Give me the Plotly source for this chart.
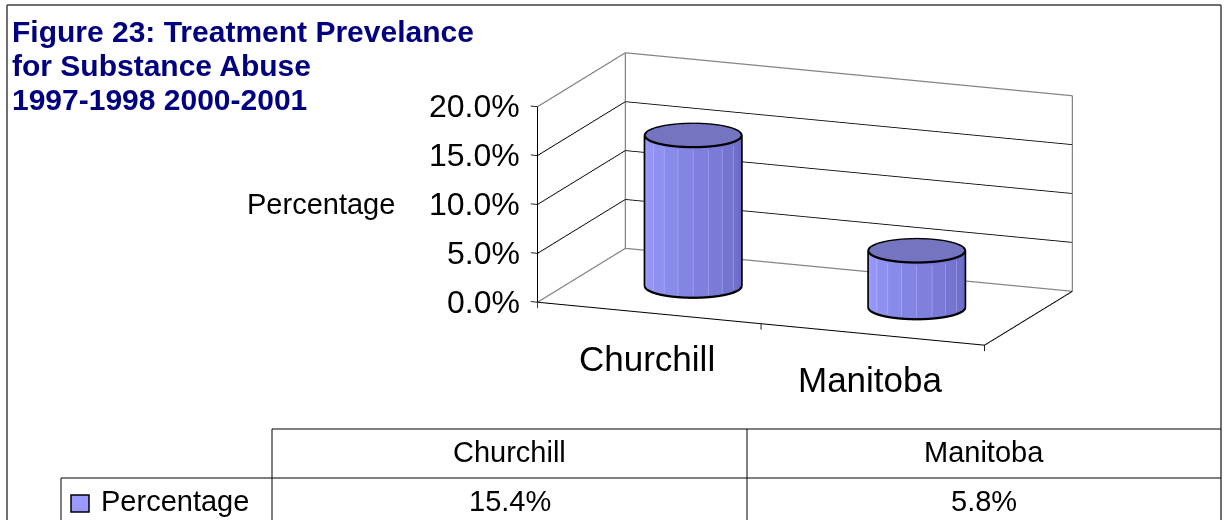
import numpy as np
import plotly.graph_objects as go

# ---------------- data ----------------
categories = ["Churchill", "Manitoba"]
series_name = "Percentage"
axis_title = "Percentage"
values = [0.154, 0.058]
value_labels = ["15.4%", "5.8%"]
z_tick_values = [0.0, 0.05, 0.10, 0.15, 0.20]
z_tick_labels = ["0.0%", "5.0%", "10.0%", "15.0%", "20.0%"]
title_lines = ["Figure 23: Treatment Prevelance", "for Substance Abuse", "1997-1998 2000-2001"]

# ---------------- style ----------------
W, H = 1225, 520
FONT = "Liberation Sans, Arial, sans-serif"
NAVY = "#000080"
BAR_LIGHT = np.array([156, 158, 255])
BAR_DARK = np.array([104, 104, 194])
STRIPE = "#b6b8ff"
TOP_COLOR = "#7474c0"
LEGEND_COLOR = "#9999ff"
GRAY = "#858585"

n = len(categories)
XMAX = float(n)
ZMAX = z_tick_values[-1]
xr = [-0.05, XMAX + 0.01]
yr = [-0.01, 1.01]
zr = [-0.008, ZMAX + 0.003]

# view geometry (pixel-world lengths per data unit)
PX, PY, PZ = 240.9, 239.2, 1010.0
PIX_PER_ASPECT = 195.4
lx = (xr[1] - xr[0]) * PX
ly = (yr[1] - yr[0]) * PY
lz = (zr[1] - zr[0]) * PZ
aspect = dict(x=lx / PIX_PER_ASPECT, y=ly / PIX_PER_ASPECT, z=lz / PIX_PER_ASPECT)

elev = np.radians(14.05)
azim = np.radians(21.59)
view = np.array([np.cos(elev) * np.sin(azim), -np.cos(elev) * np.cos(azim), np.sin(elev)])
eye = 2.0 * view

R_PX = 48.0
rx, ry = R_PX / PX, R_PX / PY
YC = 0.5
NF = 20

fig = go.Figure()


def line3d(pts, color, width):
    pts = np.array(pts, dtype=float)
    fig.add_trace(go.Scatter3d(x=pts[:, 0], y=pts[:, 1], z=pts[:, 2], mode="lines",
                               line=dict(color=color, width=width), hoverinfo="skip",
                               showlegend=False))


# box edges (gray)
for seg in [[(0, 0, ZMAX), (0, 1, ZMAX)], [(0, 1, 0), (0, 1, ZMAX)],
            [(0, 1, ZMAX), (XMAX, 1, ZMAX)], [(XMAX, 1, 0), (XMAX, 1, ZMAX)],
            [(0, 0, 0), (0, 1, 0)], [(0, 1, 0), (XMAX, 1, 0)]]:
    line3d(seg, GRAY, 2.5)
# gridlines
for zv in z_tick_values[1:-1]:
    line3d([(0, 0, zv), (0, 1, zv), (XMAX, 1, zv)], "#000000", 1.7)
# front axis lines (black)
for seg in [[(0, 0, 0), (0, 0, ZMAX)], [(0, 0, 0), (XMAX, 0, 0)], [(XMAX, 0, 0), (XMAX, 1, 0)]]:
    line3d(seg, "#000000", 2)
# tick marks
for zv in z_tick_values:
    line3d([(0, 0, zv), (-0.03, 0, zv)], "#000000", 1.7)
for k in range(n + 1):
    line3d([(k, 0, 0), (k, 0, -0.006)], "#000000", 1.7)

# cylinders
t0 = azim + np.pi
for i, v in enumerate(values):
    cx = i + 0.5
    ts = t0 + 2 * np.pi * np.arange(NF) / NF
    bx = cx + rx * np.cos(ts)
    by = YC + ry * np.sin(ts)
    xs = np.concatenate([bx, bx])
    ys = np.concatenate([by, by])
    zs = np.concatenate([np.zeros(NF), np.full(NF, v)])
    I, J, K, FC = [], [], [], []
    for k in range(NF):
        k2 = (k + 1) % NF
        tc = t0 + 2 * np.pi * (k + 0.5) / NF
        f = ((tc - t0) % (2 * np.pi)) / np.pi
        f = min(max(f, 0.0), 1.0)
        c = (BAR_LIGHT * (1 - f) + BAR_DARK * f).astype(int)
        col = "rgb(%d,%d,%d)" % tuple(c)
        I += [k, k]
        J += [k2, NF + k2]
        K += [NF + k2, NF + k]
        FC += [col, col]
    fig.add_trace(go.Mesh3d(x=xs, y=ys, z=zs, i=I, j=J, k=K, facecolor=FC, flatshading=True,
                            lighting=dict(ambient=1, diffuse=0, specular=0, fresnel=0),
                            hoverinfo="skip", showlegend=False))
    # stripes on the visible facets
    for k in range(2, NF // 2 - 1):
        ta = t0 + 2 * np.pi * k / NF
        s2 = 1.03
        line3d([(cx + s2 * rx * np.cos(ta), YC + s2 * ry * np.sin(ta), 0.003),
                (cx + s2 * rx * np.cos(ta), YC + s2 * ry * np.sin(ta), v - 0.003)], STRIPE, 1)
    # top cap
    cxs = np.concatenate([[cx], bx])
    cys = np.concatenate([[YC], by])
    czs = np.full(NF + 1, v)
    fig.add_trace(go.Mesh3d(x=cxs, y=cys, z=czs,
                            i=[0] * NF, j=[1 + k for k in range(NF)],
                            k=[1 + (k + 1) % NF for k in range(NF)],
                            color=TOP_COLOR, flatshading=True,
                            lighting=dict(ambient=1, diffuse=0, specular=0, fresnel=0),
                            hoverinfo="skip", showlegend=False))
    # outline
    tt = np.linspace(0, 2 * np.pi, 81)
    s = 1.01
    line3d(np.c_[cx + s * rx * np.cos(tt), YC + s * ry * np.sin(tt), np.full(81, v)], "#000000", 4.5)
    tf = np.linspace(t0, t0 + np.pi, 41)
    line3d(np.c_[cx + s * rx * np.cos(tf), YC + s * ry * np.sin(tf), np.zeros(41)], "#000000", 4.5)
    for ta in (t0, t0 + np.pi):
        line3d([(cx + s * rx * np.cos(ta), YC + s * ry * np.sin(ta), 0),
                (cx + s * rx * np.cos(ta), YC + s * ry * np.sin(ta), v)], "#000000", 4.5)

# scene annotations (axis labels)
scene_ann = []
for zv, lab in zip(z_tick_values, z_tick_labels):
    scene_ann.append(dict(x=0, y=0, z=zv, text=lab, showarrow=False, xanchor="right",
                          xshift=-16, font=dict(family=FONT, size=32, color="#000000")))
scene_ann.append(dict(x=0, y=0, z=ZMAX / 2, text=axis_title, showarrow=False, xanchor="right",
                      xshift=-141, font=dict(family=FONT, size=29, color="#000000")))
for i, cat in enumerate(categories):
    scene_ann.append(dict(x=i + 0.5, y=0, z=0, text=cat, showarrow=False, xanchor="center",
                          xshift=-2, yshift=-46, font=dict(family=FONT, size=35, color="#000000")))

ax_common = dict(visible=False, autorange=False, showspikes=False)


# ---------------- paper annotations / table ----------------
def py(p):
    return 1 - p / H


def pxx(p):
    return p / W


annotations = []
for yc, line in zip([31, 65, 100], title_lines):
    annotations.append(dict(xref="paper", yref="paper", x=pxx(10), y=py(yc), text="<b>%s</b>" % line,
                            showarrow=False, xanchor="left", yanchor="middle",
                            font=dict(family=FONT, size=30, color=NAVY)))

col_edges = [272, 747, 1221]
hdr_top, hdr_bot = 429, 478
row_left = 61
for j, cat in enumerate(categories):
    xc = (col_edges[j] + col_edges[j + 1]) / 2
    annotations.append(dict(xref="paper", yref="paper", x=pxx(xc), y=py(452), text=cat,
                            showarrow=False, xanchor="center", yanchor="middle",
                            font=dict(family=FONT, size=29, color="#000000")))
    annotations.append(dict(xref="paper", yref="paper", x=pxx(xc), y=py(501), text=value_labels[j],
                            showarrow=False, xanchor="center", yanchor="middle",
                            font=dict(family=FONT, size=29, color="#000000")))
annotations.append(dict(xref="paper", yref="paper", x=pxx(99), y=py(501), text=series_name,
                        showarrow=False, xanchor="left", yanchor="middle",
                        font=dict(family=FONT, size=29, color="#000000")))

shapes = []


def seg(x0, y0, x1, y1, color="#000000", width=1):
    shapes.append(dict(type="line", xref="paper", yref="paper", x0=pxx(x0), y0=py(y0),
                       x1=pxx(x1), y1=py(y1), line=dict(color=color, width=width), layer="above"))


# outer frame
seg(7, 5, 1221, 5, "#404040", 1.5)
seg(7, 5, 7, 530, "#404040", 1.5)
seg(1221, 5, 1221, 530, "#404040", 1.5)
# table lines
seg(col_edges[0], hdr_top, col_edges[-1], hdr_top)
seg(row_left, hdr_bot, col_edges[-1], hdr_bot)
seg(row_left, hdr_bot, row_left, 530)
for xe in col_edges[:-1]:
    seg(xe, hdr_top, xe, 530)
# legend key
shapes.append(dict(type="rect", xref="paper", yref="paper", x0=pxx(71), x1=pxx(89),
                   y0=py(512), y1=py(495), fillcolor=LEGEND_COLOR,
                   line=dict(color="#000000", width=1.5), layer="above"))

fig.update_layout(
    width=W, height=H, autosize=False,
    margin=dict(l=0, r=0, t=0, b=0),
    paper_bgcolor="white", plot_bgcolor="white",
    showlegend=False,
    annotations=annotations,
    shapes=shapes,
    scene=dict(
        domain=dict(x=[0.35847, 0.94847], y=[0.23942, 0.98942]),
        xaxis=dict(range=xr, **ax_common),
        yaxis=dict(range=yr, **ax_common),
        zaxis=dict(range=zr, **ax_common),
        aspectmode="manual",
        aspectratio=aspect,
        camera=dict(eye=dict(x=eye[0], y=eye[1], z=eye[2]), up=dict(x=0, y=0, z=1),
                    center=dict(x=0, y=0, z=0), projection=dict(type="orthographic")),
        dragmode=False,
        annotations=scene_ann,
        bgcolor="white",
    ),
)

fig.write_html("out.html", config={"displayModeBar": False},
               post_script="document.body.style.margin='0';document.body.style.overflow='hidden';")
